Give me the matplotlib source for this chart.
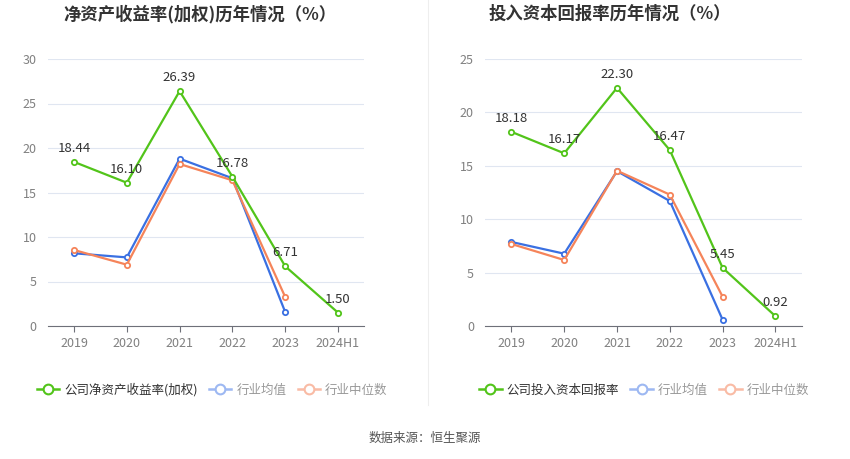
import matplotlib
matplotlib.use("Agg")
import matplotlib.pyplot as plt
from matplotlib.lines import Line2D

plt.rcParams['font.family'] = ['Noto Sans CJK SC', 'DejaVu Sans']

categories = ["2019", "2020", "2021", "2022", "2023", "2024H1"]

roe_company = [18.44, 16.10, 26.39, 16.78, 6.71, 1.50]
roe_avg = [8.17, 7.71, 18.8, 16.6, 1.57]
roe_median = [8.54, 6.89, 18.2, 16.37, 3.26]

roic_company = [18.18, 16.17, 22.30, 16.47, 5.45, 0.92]
roic_avg = [7.87, 6.77, 14.5, 11.7, 0.59]
roic_median = [7.68, 6.18, 14.54, 12.3, 2.75]

left_title = "净资产收益率(加权)历年情况（%）"
right_title = "投入资本回报率历年情况（%）"
left_legend = ["公司净资产收益率(加权)", "行业均值", "行业中位数"]
right_legend = ["公司投入资本回报率", "行业均值", "行业中位数"]
left_yticks = [0, 5, 10, 15, 20, 25, 30]
right_yticks = [0, 5, 10, 15, 20, 25]

GREEN = "#52c41a"
BLUE = "#3a70e2"
ORANGE = "#f5845a"
BLUE_L = "#9db8f2"
ORANGE_L = "#f9bba5"

fig = plt.figure(figsize=(8.5, 4.59), dpi=100)


def draw(ax, comp, avg, med, yticks, title, legend, title_x, leg_x):
    x = list(range(len(categories)))
    ax.plot(x[:len(avg)], avg, color=BLUE, lw=1.6, marker='o', ms=3.8,
            mfc='white', mec=BLUE, mew=1.3, zorder=3)
    ax.plot(x[:len(med)], med, color=ORANGE, lw=1.6, marker='o', ms=3.8,
            mfc='white', mec=ORANGE, mew=1.3, zorder=3)
    ax.plot(x, comp, color=GREEN, lw=1.6, marker='o', ms=3.8,
            mfc='white', mec=GREEN, mew=1.3, zorder=4)
    for xi, v in zip(x, comp):
        ax.annotate(f"{v:.2f}", (xi, v), xytext=(0, 5), textcoords='offset points',
                    ha='center', va='bottom', fontsize=9.5, color='#333333', zorder=5)
    ax.set_xlim(-0.5, len(categories) - 0.5)
    ax.set_ylim(yticks[0], yticks[-1])
    ax.set_yticks(yticks)
    ax.set_xticks(x)
    ax.set_xticklabels(categories)
    ax.grid(axis='y', color='#e0e6f1', lw=0.8)
    ax.set_axisbelow(True)
    for s in ['top', 'right', 'left']:
        ax.spines[s].set_visible(False)
    ax.spines['bottom'].set_color('#6e7079')
    ax.tick_params(axis='y', length=0, labelsize=9, labelcolor='#808080', pad=8)
    ax.tick_params(axis='x', length=4, color='#6e7079', labelsize=9,
                   labelcolor='#808080', pad=4)
    fig.text(title_x, 1 - 14 / 459, title, ha='center', va='center',
             fontsize=12.5, fontweight='bold', color='#333333')
    handles = [
        Line2D([], [], color=GREEN, lw=1.8, marker='o', ms=7, mfc='white', mec=GREEN, mew=1.5),
        Line2D([], [], color=BLUE_L, lw=1.8, marker='o', ms=7, mfc='white', mec=BLUE_L, mew=1.5),
        Line2D([], [], color=ORANGE_L, lw=1.8, marker='o', ms=7, mfc='white', mec=ORANGE_L, mew=1.5),
    ]
    leg = fig.legend(handles, legend, loc='center', bbox_to_anchor=(leg_x, 1 - 390 / 459),
                     ncol=3, frameon=False, fontsize=9, handlelength=1.8,
                     handletextpad=0.4, columnspacing=0.9)
    cols = ['#333333', '#999999', '#999999']
    for t, c in zip(leg.get_texts(), cols):
        t.set_color(c)


axL = fig.add_axes([47.6 / 850, 133 / 459, 316.8 / 850, 267 / 459])
draw(axL, roe_company, roe_avg, roe_median, left_yticks, left_title, left_legend,
     200 / 850, 212 / 850)

axR = fig.add_axes([485 / 850, 133 / 459, 316.8 / 850, 267 / 459])
draw(axR, roic_company, roic_avg, roic_median, right_yticks, right_title, right_legend,
     610 / 850, 644 / 850)

fig.add_artist(Line2D([428 / 850, 428 / 850], [1 - 405 / 459, 1.0],
                      transform=fig.transFigure, color='#eeeeee', lw=0.8))
fig.text(425 / 850, 1 - 438 / 459, "数据来源：恒生聚源", ha='center', va='center',
         fontsize=9, color='#555555')

fig.savefig("out.png", dpi=100)
